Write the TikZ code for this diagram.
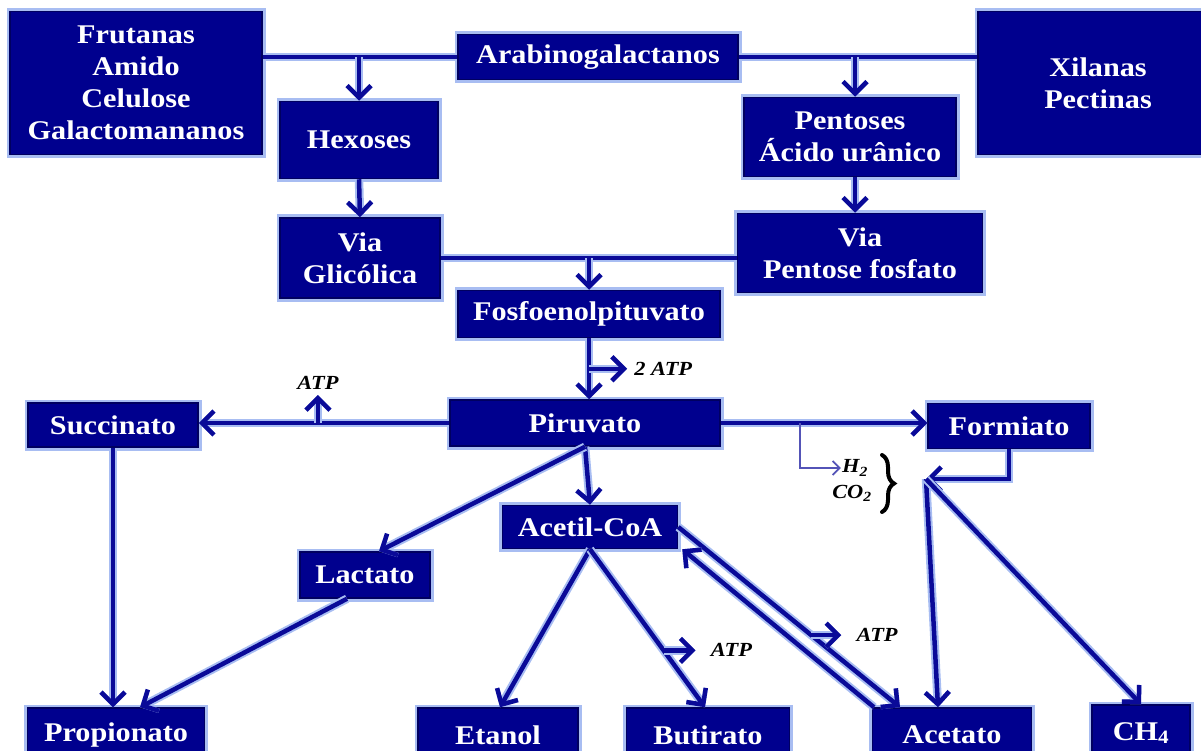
\documentclass[tikz,border=0pt]{standalone}
\usepackage{fontspec}
\setmainfont{Liberation Serif}[FakeStretch=1.12]
\usetikzlibrary{arrows.meta,calc,decorations.pathreplacing}
\definecolor{rumnavy}{HTML}{00008E}
\definecolor{rumedge}{HTML}{000060}
\definecolor{rumline}{HTML}{0A0A98}
\definecolor{rumglow}{HTML}{A8BDF2}
\tikzset{
  sub/.style={draw=rumedge, fill=rumnavy, line width=1.5pt, text=white, align=center, inner sep=0pt,
    font=\bfseries\fontsize{27}{32}\selectfont, preaction={draw=rumglow, line width=7pt}},
  ln/.style={line width=4.5pt, color=rumline, preaction={draw=rumglow, line width=8.5pt}},
  arr/.style={ln, -{Straight Barb[length=12pt,width=24pt,line width=4.5pt]}},
  faint/.style={line width=1.8pt, color=rumline!70, -{Straight Barb[length=7pt,width=14pt,line width=1.8pt]}},
  atp/.style={font=\bfseries\itshape\fontsize{20}{25}\selectfont, text=black, inner sep=1pt},
}

\begin{document}
\begin{tikzpicture}[x=1pt, y=-1pt]
  \useasboundingbox (0,0) rectangle (1201,751);
  \clip (0,0) rectangle (1201,751);

  % substrates
  \node[sub, minimum width=252, minimum height=143] (frut) at (136,83) {Frutanas\\Amido\\Celulose\\Galactomananos};
  \node[sub, minimum width=280, minimum height=45] (arab) at (598,57) {Arabinogalactanos};
  \node[sub, minimum width=240, minimum height=143] (xil) at (1098,83) {Xilanas\\Pectinas};
  \node[sub, minimum width=158, minimum height=77] (hex) at (359,140) {Hexoses};
  \node[sub, minimum width=212, minimum height=79] (pent) at (850,137) {Pentoses\\Ácido urânico};
  \node[sub, minimum width=160, minimum height=80] (glic) at (360,258) {Via\\Glicólica};
  \node[sub, minimum width=245, minimum height=79] (ppf) at (860,253) {Via\\Pentose fosfato};
  \node[sub, minimum width=262, minimum height=47] (fosf) at (589,314) {Fosfoenolpituvato};
  \node[sub, minimum width=270, minimum height=46] (piru) at (585,423) {Piruvato};
  \node[sub, minimum width=170, minimum height=44] (succ) at (113,425) {Succinato};
  \node[sub, minimum width=162, minimum height=45] (form) at (1009,426) {Formiato};
  \node[sub, minimum width=175, minimum height=43] (acoa) at (590,527) {Acetil-CoA};
  \node[sub, minimum width=130, minimum height=46] (lact) at (365,575) {Lactato};
  % products (cut by the lower edge)
  \foreach \n/\x/\w/\t in {prop/116/177/Propionato, etan/498/160/Etanol, buti/708/163/Butirato, acet/952/159/Acetato}
    { \node[sub, minimum width=\w, minimum height=54] (\n) at (\x,735) {\t}; }
  \node[sub, minimum width=98, minimum height=56] (ch4) at (1141,733) {CH\textsubscript{4}};

  % top feed lines
  \draw[ln] (frut.east |- arab.west) -- (arab.west);
  \draw[ln] (arab.east) -- (xil.west |- arab.east);
  \draw[arr] (hex.north |- arab.west) -- (hex.north);
  \draw[arr] ([xshift=5]pent.north |- arab.east) -- ([xshift=5]pent.north);
  \draw[arr] (hex.south) -- (glic.north);
  \draw[arr] ([xshift=5]pent.south) -- ([xshift=5]pent.south |- ppf.north);
  \draw[ln] (glic.east) -- (glic.east -| ppf.west);
  \draw[arr] (glic.east -| fosf.north) -- (fosf.north);

  % pyruvate
  \draw[arr] (fosf.south) -- coordinate (fp) (fosf.south |- piru.north);
  \draw[arr] (fp) -- ++(38,0) node[atp, right=4pt] {2 ATP};
  \draw[arr] (piru.west) -- coordinate[pos=0.524] (ps) (piru.west -| succ.east);
  \draw[arr] (ps) -- ++(0,-28) node[atp, above=2pt] {ATP};
  \draw[arr] (piru.east) -- coordinate[pos=0.385] (pf) (piru.east -| form.west);
  \node[atp] (h2) at (855,468) {H\textsubscript{2}};
  \node[atp] (co2) at (852,493) {CO\textsubscript{2}};
  \draw[faint] (pf) |- (h2.west);
  \draw[decorate, decoration={brace, amplitude=12pt}, line width=4pt, line cap=round] (882,455) -- (882,512);

  % formate and hydrogen sink
  \coordinate (hj) at (926,479);
  \draw[arr] (form.south) |- (hj);
  \draw[arr] (hj) -- ([xshift=-14]acet.north);
  \draw[arr] (hj) -- (ch4.north);

  % end products
  \draw[arr] (piru.south) -- (acoa.north);
  \draw[arr] (piru.south) -- ([xshift=14]lact.north);
  \draw[arr] ([xshift=-18]lact.south) -- ([xshift=24]prop.north);
  \draw[arr] (succ.south) -- (succ.south |- prop.north);
  \draw[arr] (acoa.south) -- ([xshift=2]etan.north);
  \draw[arr] (acoa.south) -- coordinate[pos=0.64] (ab) ([xshift=-3]buti.north);
  \draw[arr] (ab) -- ++(32,0) node[atp, right=12pt] {ATP};
  \draw[arr] (acoa.east) -- coordinate[pos=0.6] (aa) ([xshift=-52]acet.north);
  \draw[arr] (aa) -- ++(30,0) node[atp, right=12pt] {ATP};
  \draw[arr] ([xshift=-78]acet.north) -- ([xshift=4]acoa.south east);
\end{tikzpicture}
\end{document}
